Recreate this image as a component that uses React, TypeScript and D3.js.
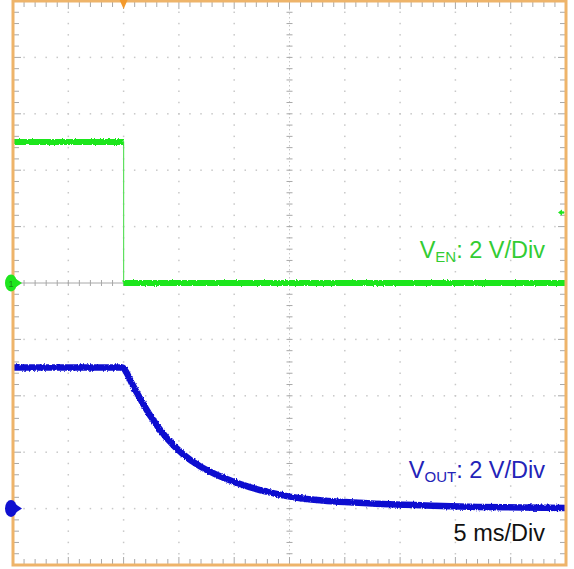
import React from "react";
import * as d3 from "d3";

// Scope screen: 10 x 10 divisions, 5 ms/Div horizontally, 2 V/Div vertically
const timeDomain = [0, 50]; // ms across the screen
const enVoltDomain = [-10, 10]; // CH1 ground at screen centre
const outVoltDomain = [-2, 18]; // CH2 ground one division above the bottom

// V_EN trace (ms, V)
const enTime = [0, 10, 10, 50];
const enVolts = [5.0, 5.0, 0.0, 0.0];

// V_OUT trace (ms, V)
const outTime = [0, 9.9, 10.4, 10.8, 11.5, 12.4, 13.9, 15.4, 16.9, 18.4, 19.9, 21.4, 23.0, 24.4, 26.0, 28.0, 30.0, 34.0, 38.0, 42.0, 46.0, 50.0];
const outVolts = [5.0, 5.0, 4.72, 4.4, 3.9, 3.3, 2.5, 1.92, 1.5, 1.2, 0.96, 0.76, 0.59, 0.47, 0.37, 0.29, 0.23, 0.15, 0.1, 0.06, 0.04, 0.02];

// Trigger: time position and CH1 level
const triggerTime = [10];
const triggerLevel = [2.5];

const enLabel = ["V", "EN", ": 2 V/Div"];
const outLabel = ["V", "OUT", ": 2 V/Div"];
const timeLabel = "5 ms/Div";

const W = 574;
const H = 569;
const LEFT = 13;
const RIGHT = 566;
const TOP = 1;
const BOTTOM = 565;

const FRAME = "#eeb46a";
const TICK = "#a8a8a8";
const GRID = "#c8c8c8";
const GREEN = "#1ee61e";
const GREEN_TEXT = "#33cc33";
const BLUE = "#1010d0";
const BLUE_TEXT = "#2323b8";

export default function App() {
  const x = d3.scaleLinear().domain(timeDomain).range([LEFT, RIGHT]);
  const yEn = d3.scaleLinear().domain(enVoltDomain).range([BOTTOM, TOP]);
  const yOut = d3.scaleLinear().domain(outVoltDomain).range([BOTTOM, TOP]);
  const yDiv = d3.scaleLinear().domain([0, 10]).range([TOP, BOTTOM]);
  const xDiv = d3.scaleLinear().domain([0, 10]).range([LEFT, RIGHT]);

  const enPts: [number, number][] = enTime.map((t, i) => [t, enVolts[i]]);
  const outPts: [number, number][] = outTime.map((t, i) => [t, outVolts[i]]);

  const lineEn = d3.line<[number, number]>().x((d) => x(d[0])).y((d) => yEn(d[1]));
  const lineOut = d3
    .line<[number, number]>()
    .x((d) => x(d[0]))
    .y((d) => yOut(d[1]))
    .curve(d3.curveMonotoneX);

  // horizontal runs of the enable trace are drawn thick, the edge thin
  const enFlat: [number, number][][] = [];
  for (let i = 0; i < enPts.length - 1; i++) {
    if (enPts[i][1] === enPts[i + 1][1]) enFlat.push([enPts[i], enPts[i + 1]]);
  }

  const minor = d3.range(0, 10.001, 0.2);
  const majors = d3.range(1, 10);

  const gridDots: JSX.Element[] = [];
  majors.forEach((m) => {
    if (m === 5) return;
    minor.forEach((f, j) => {
      if (j === 0 || j === minor.length - 1) return;
      gridDots.push(<rect key={`h${m}-${j}`} x={xDiv(f) - 0.75} y={yDiv(m) - 0.75} width={1.5} height={1.5} fill={GRID} />);
      gridDots.push(<rect key={`v${m}-${j}`} x={xDiv(m) - 0.75} y={yDiv(f) - 0.75} width={1.5} height={1.5} fill={GRID} />);
    });
  });

  const ticks: JSX.Element[] = [];
  minor.forEach((f, j) => {
    if (j === 0 || j === minor.length - 1) return;
    const isMajor = j % 5 === 0;
    const len = isMajor ? 7 : 5;
    // frame ticks
    ticks.push(<line key={`t${j}`} x1={xDiv(f)} x2={xDiv(f)} y1={TOP + 1} y2={TOP + 1 + len} />);
    ticks.push(<line key={`b${j}`} x1={xDiv(f)} x2={xDiv(f)} y1={BOTTOM - 1} y2={BOTTOM - 1 - len} />);
    ticks.push(<line key={`l${j}`} y1={yDiv(f)} y2={yDiv(f)} x1={LEFT + 1} x2={LEFT + 1 + len} />);
    ticks.push(<line key={`r${j}`} y1={yDiv(f)} y2={yDiv(f)} x1={RIGHT - 1} x2={RIGHT - 1 - len} />);
    // centre cross ticks
    ticks.push(<line key={`cx${j}`} x1={xDiv(f)} x2={xDiv(f)} y1={yDiv(5) - 3} y2={yDiv(5) + 3} />);
    ticks.push(<line key={`cy${j}`} y1={yDiv(f)} y2={yDiv(f)} x1={xDiv(5) - 3} x2={xDiv(5) + 3} />);
  });

  const tx = x(triggerTime[0]);
  const ty = yEn(triggerLevel[0]);
  const g0 = yEn(0);
  const b0 = yOut(0);

  return (
    <svg
      width={W}
      height={H}
      style={{ position: "absolute", left: 0, top: 0, background: "#fff" }}
      fontFamily="'Liberation Sans', Arial, sans-serif"
    >
      <defs>
        <filter id="noise" x="-5%" y="-20%" width="110%" height="140%">
          <feTurbulence type="fractalNoise" baseFrequency="0.9 0.3" numOctaves={2} seed={3} result="n" />
          <feDisplacementMap in="SourceGraphic" in2="n" scale={3} xChannelSelector="R" yChannelSelector="G" />
        </filter>
      </defs>
      <rect x={0} y={0} width={W} height={H} fill="#fff" />

      {/* dotted graticule */}
      <g>{gridDots}</g>
      {/* centre cross */}
      <line x1={LEFT} x2={RIGHT} y1={yDiv(5)} y2={yDiv(5)} stroke={TICK} strokeWidth={1} />
      <line x1={xDiv(5)} x2={xDiv(5)} y1={TOP} y2={BOTTOM} stroke={GRID} strokeWidth={1} strokeDasharray="1.5 2.5" />
      <g stroke={TICK} strokeWidth={1}>{ticks}</g>

      {/* V_EN trace */}
      <path d={lineEn(enPts) || ""} fill="none" stroke="#5fe05f" strokeWidth={1.2} />
      <g filter="url(#noise)">
        {enFlat.map((seg, i) => (
          <path key={i} d={lineEn(seg) || ""} fill="none" stroke={GREEN} strokeWidth={6} />
        ))}
      </g>

      {/* V_OUT trace */}
      <g filter="url(#noise)">
        <path d={lineOut(outPts) || ""} fill="none" stroke={BLUE} strokeWidth={6.5} strokeLinejoin="round" />
      </g>

      {/* frame */}
      <rect x={LEFT} y={TOP} width={RIGHT - LEFT} height={BOTTOM - TOP} fill="none" stroke={FRAME} strokeWidth={3} />

      {/* trigger position marker */}
      <path d={`M${tx - 4},${0} L${tx + 4},${0} L${tx},${9} Z`} fill="#f39a2c" />
      {/* trigger level marker */}
      <path d={`M${RIGHT - 8},${ty} L${RIGHT - 4},${ty - 3} L${RIGHT - 4},${ty + 3} Z`} fill={GREEN} />
      <circle cx={RIGHT - 3} cy={ty} r={1.3} fill={GREEN} />

      {/* channel ground markers, on top of the frame */}
      <ellipse cx={11} cy={g0} rx={6} ry={8.5} fill={GREEN} />
      <path d={`M${16},${g0 - 4} L${22},${g0} L${16},${g0 + 4} Z`} fill={GREEN} />
      <text x={11} y={g0 + 3.5} fontSize={9} textAnchor="middle" fill="#1a8a1a">1</text>
      <ellipse cx={11} cy={b0} rx={6} ry={8.5} fill={BLUE} />
      <path d={`M${16},${b0 - 4} L${22},${b0} L${16},${b0 + 4} Z`} fill={BLUE} />

      {/* labels */}
      <text x={545} y={258} fontSize={23.5} textAnchor="end" fill={GREEN_TEXT}>
        {enLabel[0]}
        <tspan fontSize={15} dy={4}>{enLabel[1]}</tspan>
        <tspan dy={-4}>{enLabel[2]}</tspan>
      </text>
      <text x={545} y={478} fontSize={23.5} textAnchor="end" fill={BLUE_TEXT}>
        {outLabel[0]}
        <tspan fontSize={15} dy={4}>{outLabel[1]}</tspan>
        <tspan dy={-4}>{outLabel[2]}</tspan>
      </text>
      <text x={545} y={541} fontSize={23.5} textAnchor="end" fill="#111">
        {timeLabel}
      </text>
    </svg>
  );
}
